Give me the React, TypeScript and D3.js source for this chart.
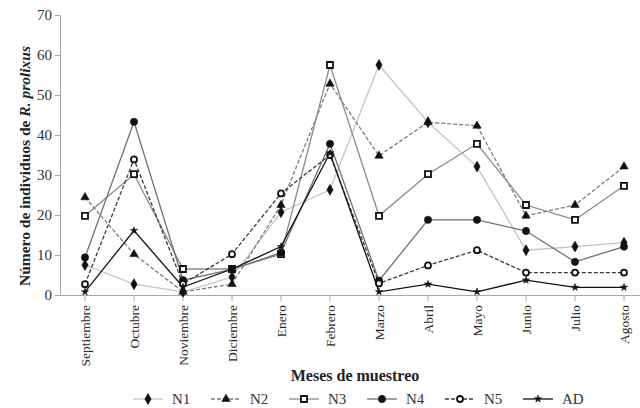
import React, { useEffect, useRef } from 'react';
import * as d3 from 'd3';

// Meses de muestreo
const months = ['Septiembre', 'Octubre', 'Noviembre', 'Diciembre', 'Enero', 'Febrero', 'Marzo', 'Abril', 'Mayo', 'Junio', 'Julio', 'Agosto'];

// individuos por estadio
const n1 = [7.5, 2.7, 0.8, 4.5, 20.7, 26.3, 57.5, 43.2, 32.1, 11.2, 12.1, 13.1];
const n2 = [24.4, 10.2, 0.8, 2.7, 22.5, 52.8, 34.8, 43.2, 42.3, 19.8, 22.5, 32.1];
const n3 = [19.8, 30.2, 6.5, 6.5, 10.2, 57.5, 19.8, 30.2, 37.8, 22.5, 18.8, 27.3];
const n4 = [9.4, 43.3, 3.7, 6.4, 10.6, 37.8, 3.6, 18.8, 18.8, 16.0, 8.3, 12.1];
const n5 = [2.7, 33.9, 2.8, 10.2, 25.4, 35.0, 2.9, 7.4, 11.2, 5.6, 5.6, 5.6];
const ad = [0.8, 16.1, 2.0, 6.5, 12.1, 35.5, 0.8, 2.7, 0.8, 3.7, 1.9, 1.9];

const yTicks = [0, 10, 20, 30, 40, 50, 60, 70];

const seriesNames = ['N1', 'N2', 'N3', 'N4', 'N5', 'AD'];
const seriesValues = [n1, n2, n3, n4, n5, ad];

const FONT = "'Liberation Serif', 'Times New Roman', Times, 'DejaVu Serif', serif";

type Style = { stroke: string; dash: string | null; symbol: d3.SymbolType; size: number; fill: string };

const styles: Style[] = [
    { stroke: '#c4c4c4', dash: null, symbol: d3.symbolDiamond, size: 34, fill: '#111' },
    { stroke: '#7c7c7c', dash: '4,2', symbol: d3.symbolTriangle, size: 30, fill: '#111' },
    { stroke: '#8a8a8a', dash: null, symbol: d3.symbolSquare, size: 36, fill: '#fff' },
    { stroke: '#707070', dash: null, symbol: d3.symbolCircle, size: 42, fill: '#111' },
    { stroke: '#3c3c3c', dash: '4,2', symbol: d3.symbolCircle, size: 28, fill: '#fff' },
    { stroke: '#111111', dash: null, symbol: d3.symbolStar, size: 16, fill: '#111' },
];

const Chart: React.FC = () => {
    const ref = useRef<SVGSVGElement>(null);

    useEffect(() => {
        if (!ref.current) return;
        const margin = { top: 15, left: 60, bottom: 295 };

        const svg = d3.select(ref.current);
        svg.selectAll('*').remove();

        const x = d3.scaleBand<string>()
            .domain(months)
            .range([margin.left + 0.5, margin.left + 0.5 + 49 * months.length])
            .paddingInner(0)
            .paddingOuter(0);
        const cx = (m: string) => (x(m) as number) + x.bandwidth() / 2;

        const y = d3.scaleLinear().domain([0, 70]).range([margin.bottom, margin.top]);

        // y axis
        const gy = svg.append('g')
            .attr('transform', `translate(${margin.left},0)`)
            .call(d3.axisLeft(y).tickValues(yTicks).tickSize(5).tickSizeOuter(0));
        gy.attr('font-family', null).attr('font-size', null);
        gy.select('.domain').attr('stroke', '#a8a8a8');
        gy.selectAll('.tick line').attr('stroke', '#a8a8a8');
        gy.selectAll('.tick text')
            .style('font-family', FONT).style('font-size', '15px').attr('fill', '#333').attr('x', -8);

        // x axis
        const gx = svg.append('g')
            .attr('transform', `translate(0,${margin.bottom})`)
            .call(d3.axisBottom(x).tickSize(6).tickSizeOuter(0));
        gx.attr('font-family', null).attr('font-size', null);
        gx.select('.domain').attr('stroke', '#a8a8a8');
        gx.selectAll('.tick line').attr('stroke', '#a8a8a8');
        gx.selectAll('.tick text')
            .style('font-family', FONT).style('font-size', '13.5px').attr('fill', '#2a2a2a')
            .attr('transform', 'rotate(-90)')
            .attr('text-anchor', 'end')
            .attr('x', -10).attr('y', 0).attr('dy', '0.35em');

        const line = d3.line<number>()
            .x((_, i) => cx(months[i]))
            .y(d => y(d));

        seriesValues.forEach((vals, si) => {
            const st = styles[si];
            svg.append('path')
                .datum(vals)
                .attr('d', line)
                .attr('fill', 'none')
                .attr('stroke', st.stroke)
                .attr('stroke-width', 1.3)
                .attr('stroke-dasharray', st.dash);
        });

        seriesValues.forEach((vals, si) => {
            const st = styles[si];
            const sym = d3.symbol().type(st.symbol).size(st.size);
            svg.append('g').selectAll('path')
                .data(vals)
                .join('path')
                .attr('transform', (d, i) => `translate(${cx(months[i])},${y(d)})`)
                .attr('d', sym)
                .attr('fill', st.fill)
                .attr('stroke', '#111')
                .attr('stroke-width', st.fill === '#fff' ? 1.8 : 0.6);
        });

        // axis titles
        svg.append('text')
            .attr('x', 355).attr('y', 381)
            .attr('text-anchor', 'middle')
            .style('font-family', FONT).style('font-size', '16px').attr('font-weight', 'bold')
            .attr('fill', '#222')
            .text('Meses de muestreo');

        const yt = svg.append('text')
            .attr('transform', 'translate(30,166) rotate(-90)')
            .attr('text-anchor', 'middle')
            .style('font-family', FONT).style('font-size', '15.5px').attr('font-weight', 'bold')
            .attr('fill', '#222');
        yt.append('tspan').text('Número de individuos de ');
        yt.append('tspan').attr('font-style', 'italic').text('R. prolixus');

        // legend
        const lx = d3.scaleLinear().domain([0, seriesNames.length - 1]).range([148, 538]);
        const ly = 399;
        seriesNames.forEach((name, si) => {
            const st = styles[si];
            const g = svg.append('g').attr('transform', `translate(${lx(si)},${ly})`);
            g.append('line')
                .attr('x1', -15).attr('x2', 15)
                .attr('stroke', st.stroke).attr('stroke-width', 1.3)
                .attr('stroke-dasharray', st.dash);
            g.append('path')
                .attr('d', d3.symbol().type(st.symbol).size(st.size)())
                .attr('fill', st.fill)
                .attr('stroke', '#111')
                .attr('stroke-width', st.fill === '#fff' ? 1.8 : 0.6);
            g.append('text')
                .attr('x', 24).attr('dy', '0.35em')
                .style('font-family', FONT).style('font-size', '15px').attr('fill', '#333')
                .text(name);
        });
    }, []);

    return <svg ref={ref} width={640} height={408} style={{ position: 'absolute', left: 0, top: 0, background: '#fff' }} />;
};

export default function App() {
    return <Chart />;
}
